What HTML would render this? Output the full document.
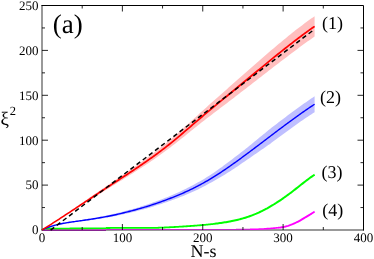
<!DOCTYPE html>
<html><head><meta charset="utf-8"><style>
html,body{margin:0;padding:0;background:#fff;}
svg{display:block;will-change:transform;text-rendering:geometricPrecision;font-family:"Liberation Serif",serif;}
</style></head><body>
<svg width="374" height="259" viewBox="0 0 374 259">
<rect width="374" height="259" fill="#fff"/>
<polygon points="42.00,229.70 43.71,228.59 45.43,227.47 47.14,226.35 48.86,225.22 50.57,224.09 52.29,222.95 54.00,221.82 55.72,220.67 57.43,219.53 59.14,218.38 60.86,217.22 62.57,216.07 64.29,214.91 66.00,213.75 67.72,212.59 69.43,211.42 71.15,210.25 72.86,209.08 74.57,207.91 76.29,206.74 78.00,205.57 79.72,204.39 81.43,203.22 83.15,202.04 84.86,200.87 86.58,199.69 88.29,198.51 90.01,197.34 91.72,196.16 93.43,194.99 95.15,193.81 96.86,192.64 98.58,191.47 100.29,190.30 102.01,189.12 103.72,187.94 105.44,186.76 107.15,185.59 108.86,184.41 110.58,183.24 112.29,182.08 114.01,180.91 115.72,179.74 117.44,178.58 119.15,177.41 120.87,176.24 122.58,175.07 124.29,173.90 126.01,172.73 127.72,171.55 129.44,170.37 131.15,169.18 132.87,167.99 134.58,166.80 136.30,165.60 138.01,164.39 139.72,163.18 141.44,161.95 143.15,160.71 144.87,159.47 146.58,158.21 148.30,156.95 150.01,155.67 151.73,154.39 153.44,153.09 155.15,151.79 156.87,150.47 158.58,149.13 160.30,147.79 162.01,146.43 163.73,145.06 165.44,143.67 167.16,142.27 168.87,140.85 170.58,139.41 172.30,137.96 174.01,136.50 175.73,135.00 177.44,133.49 179.16,131.96 180.87,130.43 182.59,128.89 184.30,127.35 186.02,125.80 187.73,124.25 189.44,122.69 191.16,121.13 192.87,119.57 194.59,118.02 196.30,116.46 198.02,114.91 199.73,113.35 201.45,111.79 203.16,110.24 204.87,108.69 206.59,107.15 208.30,105.61 210.02,104.08 211.73,102.55 213.45,101.02 215.16,99.50 216.88,97.98 218.59,96.46 220.30,94.95 222.02,93.43 223.73,91.92 225.45,90.40 227.16,88.89 228.88,87.37 230.59,85.86 232.31,84.34 234.02,82.82 235.73,81.30 237.45,79.78 239.16,78.27 240.88,76.77 242.59,75.26 244.31,73.75 246.02,72.24 247.74,70.73 249.45,69.22 251.16,67.71 252.88,66.21 254.59,64.70 256.31,63.20 258.02,61.69 259.74,60.19 261.45,58.69 263.17,57.19 264.88,55.71 266.59,54.25 268.31,52.78 270.02,51.32 271.74,49.87 273.45,48.42 275.17,46.97 276.88,45.52 278.60,44.09 280.31,42.65 282.03,41.22 283.74,39.80 285.45,38.38 287.17,36.97 288.88,35.57 290.60,34.17 292.31,32.79 294.03,31.45 295.74,30.12 297.46,28.81 299.17,27.50 300.88,26.19 302.60,24.90 304.31,23.62 306.03,22.35 307.74,21.09 309.46,19.84 311.17,18.60 312.89,17.38 314.60,16.17 314.60,36.57 312.89,37.75 311.17,38.95 309.46,40.15 307.74,41.37 306.03,42.60 304.31,43.84 302.60,45.09 300.88,46.35 299.17,47.62 297.46,48.90 295.74,50.19 294.03,51.49 292.31,52.79 290.60,54.07 288.88,55.34 287.17,56.63 285.45,57.91 283.74,59.21 282.03,60.51 280.31,61.82 278.60,63.13 276.88,64.44 275.17,65.77 273.45,67.09 271.74,68.42 270.02,69.75 268.31,71.09 266.59,72.43 264.88,73.77 263.17,75.11 261.45,76.43 259.74,77.75 258.02,79.07 256.31,80.40 254.59,81.73 252.88,83.05 251.16,84.38 249.45,85.71 247.74,87.04 246.02,88.38 244.31,89.71 242.59,91.04 240.88,92.37 239.16,93.70 237.45,95.03 235.73,96.34 234.02,97.65 232.31,98.96 230.59,100.27 228.88,101.57 227.16,102.88 225.45,104.18 223.73,105.48 222.02,106.79 220.30,108.09 218.59,109.40 216.88,110.70 215.16,112.01 213.45,113.32 211.73,114.64 210.02,115.96 208.30,117.28 206.59,118.60 204.87,119.94 203.16,121.27 201.45,122.61 199.73,123.96 198.02,125.31 196.30,126.69 194.59,128.08 192.87,129.46 191.16,130.85 189.44,132.23 187.73,133.62 186.02,135.00 184.30,136.38 182.59,137.75 180.87,139.12 179.16,140.48 177.44,141.83 175.73,143.17 174.01,144.50 172.30,145.84 170.58,147.17 168.87,148.49 167.16,149.78 165.44,151.07 163.73,152.33 162.01,153.58 160.30,154.82 158.58,156.05 156.87,157.26 155.15,158.46 153.44,159.64 151.73,160.82 150.01,161.98 148.30,163.13 146.58,164.28 144.87,165.41 143.15,166.54 141.44,167.65 139.72,168.76 138.01,169.87 136.30,170.98 134.58,172.07 132.87,173.17 131.15,174.25 129.44,175.33 127.72,176.41 126.01,177.49 124.29,178.56 122.58,179.63 120.87,180.69 119.15,181.76 117.44,182.82 115.72,183.89 114.01,184.95 112.29,186.01 110.58,187.08 108.86,188.15 107.15,189.22 105.44,190.29 103.72,191.36 102.01,192.44 100.29,193.52 98.58,194.61 96.86,195.70 95.15,196.80 93.43,197.89 91.72,198.99 90.01,200.09 88.29,201.19 86.58,202.29 84.86,203.39 83.15,204.49 81.43,205.58 79.72,206.68 78.00,207.78 76.29,208.88 74.57,209.97 72.86,211.07 71.15,212.16 69.43,213.25 67.72,214.34 66.00,215.42 64.29,216.51 62.57,217.59 60.86,218.67 59.14,219.75 57.43,220.82 55.72,221.89 54.00,222.95 52.29,224.02 50.57,225.07 48.86,226.13 47.14,227.18 45.43,228.22 43.71,229.26 42.00,230.30" fill="#ffbfbf"/>
<polygon points="42.00,229.80 43.71,228.98 45.43,228.23 47.14,227.52 48.86,226.86 50.57,226.25 52.29,225.68 54.00,225.16 55.72,224.67 57.43,224.22 59.14,223.80 60.86,223.41 62.57,223.05 64.29,222.70 66.00,222.37 67.72,222.05 69.43,221.76 71.15,221.47 72.86,221.20 74.57,220.93 76.29,220.67 78.00,220.41 79.72,220.15 81.43,219.88 83.15,219.61 84.86,219.34 86.58,219.07 88.29,218.79 90.01,218.50 91.72,218.21 93.43,217.92 95.15,217.62 96.86,217.32 98.58,217.00 100.29,216.69 102.01,216.36 103.72,216.02 105.44,215.68 107.15,215.33 108.86,214.97 110.58,214.60 112.29,214.22 114.01,213.83 115.72,213.42 117.44,213.00 119.15,212.57 120.87,212.14 122.58,211.69 124.29,211.24 126.01,210.78 127.72,210.32 129.44,209.85 131.15,209.38 132.87,208.91 134.58,208.42 136.30,207.92 138.01,207.42 139.72,206.91 141.44,206.37 143.15,205.83 144.87,205.28 146.58,204.71 148.30,204.14 150.01,203.56 151.73,202.96 153.44,202.36 155.15,201.75 156.87,201.12 158.58,200.49 160.30,199.84 162.01,199.19 163.73,198.52 165.44,197.85 167.16,197.14 168.87,196.43 170.58,195.71 172.30,194.98 174.01,194.24 175.73,193.48 177.44,192.72 179.16,191.94 180.87,191.15 182.59,190.34 184.30,189.51 186.02,188.67 187.73,187.82 189.44,186.95 191.16,186.07 192.87,185.16 194.59,184.24 196.30,183.31 198.02,182.35 199.73,181.38 201.45,180.40 203.16,179.41 204.87,178.40 206.59,177.37 208.30,176.32 210.02,175.25 211.73,174.10 213.45,172.94 215.16,171.76 216.88,170.56 218.59,169.35 220.30,168.12 222.02,166.88 223.73,165.62 225.45,164.35 227.16,163.07 228.88,161.77 230.59,160.46 232.31,159.15 234.02,157.82 235.73,156.50 237.45,155.20 239.16,153.89 240.88,152.57 242.59,151.24 244.31,149.91 246.02,148.55 247.74,147.17 249.45,145.78 251.16,144.39 252.88,142.99 254.59,141.59 256.31,140.19 258.02,138.78 259.74,137.37 261.45,135.96 263.17,134.55 264.88,133.14 266.59,131.73 268.31,130.32 270.02,128.91 271.74,127.59 273.45,126.28 275.17,124.96 276.88,123.65 278.60,122.35 280.31,121.04 282.03,119.74 283.74,118.44 285.45,117.15 287.17,115.86 288.88,114.58 290.60,113.30 292.31,112.03 294.03,110.77 295.74,109.52 297.46,108.27 299.17,107.03 300.88,105.80 302.60,104.58 304.31,103.36 306.03,102.14 307.74,100.94 309.46,99.74 311.17,98.56 312.89,97.39 314.60,96.24 314.60,112.24 312.89,113.34 311.17,114.45 309.46,115.57 307.74,116.70 306.03,117.85 304.31,119.00 302.60,120.17 300.88,121.36 299.17,122.56 297.46,123.77 295.74,124.98 294.03,126.21 292.31,127.44 290.60,128.68 288.88,129.92 287.17,131.17 285.45,132.43 283.74,133.69 282.03,134.96 280.31,136.23 278.60,137.50 276.88,138.78 275.17,140.06 273.45,141.34 271.74,142.62 270.02,143.91 268.31,145.10 266.59,146.29 264.88,147.49 263.17,148.68 261.45,149.87 259.74,151.06 258.02,152.25 256.31,153.43 254.59,154.62 252.88,155.80 251.16,156.98 249.45,158.15 247.74,159.32 246.02,160.48 244.31,161.66 242.59,162.85 240.88,164.04 239.16,165.22 237.45,166.39 235.73,167.56 234.02,168.69 232.31,169.80 230.59,170.90 228.88,171.99 227.16,173.06 225.45,174.13 223.73,175.18 222.02,176.22 220.30,177.24 218.59,178.25 216.88,179.24 215.16,180.22 213.45,181.18 211.73,182.13 210.02,183.05 208.30,184.02 206.59,184.96 204.87,185.89 203.16,186.80 201.45,187.69 199.73,188.56 198.02,189.40 196.30,190.22 194.59,191.02 192.87,191.81 191.16,192.58 189.44,193.33 187.73,194.07 186.02,194.79 184.30,195.49 182.59,196.18 180.87,196.87 179.16,197.54 177.44,198.19 175.73,198.84 174.01,199.47 172.30,200.10 170.58,200.71 168.87,201.31 167.16,201.90 165.44,202.48 163.73,203.06 162.01,203.64 160.30,204.22 158.58,204.78 156.87,205.33 155.15,205.87 153.44,206.40 151.73,206.93 150.01,207.44 148.30,207.94 146.58,208.43 144.87,208.91 143.15,209.38 141.44,209.84 139.72,210.30 138.01,210.75 136.30,211.19 134.58,211.63 132.87,212.06 131.15,212.48 129.44,212.88 127.72,213.29 126.01,213.69 124.29,214.09 122.58,214.48 120.87,214.87 119.15,215.24 117.44,215.61 115.72,215.97 114.01,216.32 112.29,216.65 110.58,216.97 108.86,217.28 107.15,217.58 105.44,217.87 103.72,218.15 102.01,218.43 100.29,218.70 98.58,218.97 96.86,219.23 95.15,219.49 93.43,219.74 91.72,219.98 90.01,220.23 88.29,220.46 86.58,220.70 84.86,220.92 83.15,221.15 81.43,221.37 79.72,221.59 78.00,221.80 76.29,222.01 74.57,222.23 72.86,222.45 71.15,222.68 69.43,222.91 67.72,223.16 66.00,223.43 64.29,223.71 62.57,224.01 60.86,224.33 59.14,224.68 57.43,225.05 55.72,225.45 54.00,225.89 52.29,226.36 50.57,226.88 48.86,227.45 47.14,228.06 45.43,228.72 43.71,229.43 42.00,230.20" fill="#bfbfff"/>
<path d="M42,230V5.5M42,230H363.5" fill="none" stroke="#000" stroke-width="1" stroke-opacity="0.8" stroke-linecap="square"/><path d="M41.5,5.5H363.5V230.5" fill="none" stroke="#000" stroke-width="1"/>
<polyline points="106.20,229.47 107.41,229.45 108.63,229.45 109.84,229.45 111.05,229.45 112.27,229.45 113.48,229.45 114.69,229.45 115.90,229.45 117.12,229.45 118.33,229.45 119.54,229.45 120.76,229.45 121.97,229.45 123.18,229.45 124.40,229.45 125.61,229.45 126.82,229.45 128.04,229.45 129.25,229.45 130.46,229.45 131.67,229.45 132.89,229.45 134.10,229.45 135.31,229.45 136.53,229.45 137.74,229.45 138.95,229.45 140.17,229.45 141.38,229.45 142.59,229.45 143.81,229.45 145.02,229.45 146.23,229.45 147.44,229.45 148.66,229.45 149.87,229.45 151.08,229.45 152.30,229.45 153.51,229.45 154.72,229.45 155.94,229.45 157.15,229.45 158.36,229.45 159.58,229.45 160.79,229.45 162.00,229.45 163.21,229.45 164.43,229.45 165.64,229.45 166.85,229.45 168.07,229.45 169.28,229.45 170.49,229.45 171.71,229.45 172.92,229.45 174.13,229.45 175.35,229.45 176.56,229.45 177.77,229.45 178.99,229.45 180.20,229.45 181.41,229.45 182.62,229.45 183.84,229.45 185.05,229.45 186.26,229.45 187.48,229.45 188.69,229.45 189.90,229.45 191.12,229.45 192.33,229.45 193.54,229.45 194.76,229.45 195.97,229.45 197.18,229.45 198.39,229.45 199.61,229.45 200.82,229.45 202.03,229.45 203.25,229.45 204.46,229.45 205.67,229.45 206.89,229.45 208.10,229.45 209.31,229.45 210.53,229.45 211.74,229.45 212.95,229.45 214.16,229.45 215.38,229.45 216.59,229.45 217.80,229.45 219.02,229.45 220.23,229.45 221.44,229.45 222.66,229.45 223.87,229.45 225.08,229.45 226.30,229.45 227.51,229.45 228.72,229.45 229.93,229.45 231.15,229.45 232.36,229.45 233.57,229.45 234.79,229.45 236.00,229.45" fill="none" stroke="rgb(198,40,203)" stroke-width="1.1" stroke-linejoin="round"/><polyline points="236.00,229.45 237.40,229.45 238.80,229.44 240.20,229.43 241.60,229.42 243.00,229.40 244.40,229.38 245.80,229.36 247.20,229.34 248.60,229.32 250.00,229.30" fill="none" stroke="rgb(198,40,203)" stroke-width="1.3" stroke-linejoin="round"/><polyline points="250.00,229.30 251.33,229.28 252.67,229.26 254.00,229.24 255.33,229.21 256.67,229.18 258.00,229.15 259.33,229.11 260.67,229.06 262.00,229.00 263.33,228.94 264.67,228.87 265.00,228.85 266.00,228.79" fill="none" stroke="#ff00ff" stroke-width="1.5" stroke-linejoin="round"/><polyline points="266.00,228.79 267.33,228.71 268.67,228.61 270.00,228.50 271.33,228.39 272.67,228.27 274.00,228.15 275.06,228.05 275.33,228.02 276.67,227.90 278.00,227.76" fill="none" stroke="#ff00ff" stroke-width="1.7" stroke-linejoin="round"/><polyline points="278.00,227.76 279.26,227.63 280.52,227.48 281.79,227.30 283.05,227.11 283.10,227.10 284.31,226.86 285.57,226.54 286.83,226.18 288.10,225.80 288.10,225.80 289.36,225.39 290.62,224.94 291.88,224.45 292.00,224.40 293.14,223.92 294.41,223.35 295.03,223.06 295.67,222.76 296.93,222.15 298.19,221.53 299.46,220.87 300.05,220.55 300.72,220.18 301.98,219.43 303.24,218.66 304.50,217.88 305.06,217.54 305.77,217.12 307.03,216.37 308.29,215.62 309.55,214.85 310.08,214.53 310.81,214.08 312.08,213.29 313.34,212.48 314.40,211.80 314.60,211.67" fill="none" stroke="#ff00ff" stroke-width="1.9" stroke-linejoin="round"/>
<polyline points="42.00,230.00 43.23,229.24 44.46,228.80 44.50,228.80 45.69,228.69 46.92,228.63 48.00,228.60 48.14,228.60 49.37,228.58 50.60,228.57 51.83,228.56 53.06,228.55 54.29,228.54 55.52,228.53 56.75,228.52 57.98,228.51 59.20,228.50 60.43,228.50 61.66,228.49 62.89,228.49 64.12,228.49 65.35,228.48 66.58,228.48 67.81,228.48 69.03,228.48 70.26,228.47 71.49,228.47 72.72,228.47 73.95,228.47 75.18,228.47 76.41,228.47 77.64,228.47 78.87,228.46 80.09,228.46 81.32,228.46 82.55,228.46 83.78,228.46 85.01,228.46 86.24,228.45 87.47,228.45 88.70,228.44 89.93,228.44 91.15,228.43 92.38,228.43 93.61,228.42 94.84,228.41 96.07,228.40 97.30,228.39 98.53,228.38 99.76,228.37 100.98,228.36 102.21,228.34 103.44,228.33 104.67,228.31 105.50,228.30 105.90,228.15" fill="none" stroke="#00ff00" stroke-width="1.7" stroke-linejoin="round"/><polyline points="105.90,228.15 106.30,228.00 107.13,227.99 108.35,227.99 109.58,227.98 110.80,227.97 112.03,227.97 113.26,227.96 114.48,227.96 115.71,227.96 116.93,227.95 118.16,227.95 119.38,227.95 120.61,227.95 121.84,227.95 123.06,227.94 124.29,227.94 125.51,227.94 126.74,227.94 127.97,227.94 129.19,227.94 130.42,227.94 131.64,227.94 132.87,227.94 134.09,227.94 135.32,227.94 136.55,227.93 137.77,227.93 139.00,227.93 140.22,227.93 141.45,227.93 142.68,227.93 143.90,227.94 145.13,227.94 146.35,227.95 147.58,227.95 148.80,227.95 150.00,227.94 150.03,227.94 151.26,227.92 152.48,227.90 153.71,227.87 154.93,227.84 156.16,227.81 157.39,227.78 158.61,227.74 159.84,227.70 161.06,227.65 162.29,227.60 163.51,227.55 164.74,227.50 165.97,227.45 166.00,227.45 167.19,227.39 168.42,227.33 169.64,227.27 170.87,227.21 172.10,227.14 173.32,227.07 174.55,227.00 175.00,226.98 175.77,226.93 177.00,226.86 178.22,226.79 179.45,226.72 180.68,226.64 181.90,226.56 183.13,226.49 184.35,226.41 185.00,226.37 185.58,226.33 186.81,226.25 188.03,226.17 189.26,226.09 190.48,226.01 191.71,225.92 192.93,225.83 194.16,225.75 195.06,225.68 195.39,225.65 196.61,225.56 197.84,225.47 199.06,225.37 200.29,225.27 201.52,225.16 202.74,225.05 203.97,224.94 205.10,224.84 205.19,224.83 206.42,224.71 207.64,224.59 208.87,224.46 210.10,224.33 211.00,224.23 211.32,224.19 212.55,224.05 213.77,223.91 215.00,223.75" fill="none" stroke="#00ff00" stroke-width="1.8" stroke-linejoin="round"/><polyline points="215.00,223.75 216.21,223.60 217.43,223.44 218.64,223.27 219.86,223.10 220.00,223.08 221.07,222.93 222.29,222.74 223.50,222.55 224.72,222.36 225.93,222.15 227.15,221.94 228.36,221.73 229.58,221.50 230.06,221.41 230.79,221.27 232.00,221.03 233.22,220.78 234.43,220.52 235.65,220.25 236.86,219.97 238.08,219.68 239.29,219.38 240.10,219.17 240.51,219.06 241.72,218.74 242.94,218.40 244.15,218.04 245.37,217.67 246.00,217.47 246.58,217.29 247.80,216.89 249.01,216.47 250.22,216.04 251.44,215.59 252.65,215.12 253.87,214.64 255.00,214.18 255.08,214.14 256.30,213.63 257.51,213.09 258.73,212.54 259.94,211.98 261.16,211.40 262.37,210.80 263.59,210.19 264.80,209.56 265.06,209.42 266.01,208.91 267.23,208.26 268.44,207.58 269.66,206.89 270.87,206.19 272.09,205.47 273.30,204.74 274.52,203.99 275.10,203.62 275.73,203.23 276.95,202.45 278.16,201.66 279.38,200.86 280.59,200.05 281.80,199.22 282.00,199.08 283.02,198.38 284.23,197.53 285.45,196.66 286.02,196.25 286.66,195.79 287.88,194.90 289.09,194.00 290.03,193.30 290.31,193.10 291.52,192.18 292.74,191.25 293.95,190.31 295.17,189.36 296.38,188.41 297.60,187.45 298.81,186.49 300.02,185.52 300.06,185.49 301.24,184.56 302.45,183.60 303.67,182.64 304.88,181.70 306.10,180.76 307.31,179.84 308.53,178.93 309.74,178.04 310.10,177.78 310.96,177.16 312.17,176.31 313.39,175.48 314.40,174.80 314.60,174.67" fill="none" stroke="#00ff00" stroke-width="2.0" stroke-linejoin="round"/>
<polyline points="42.00,230.00 43.21,229.44 44.41,228.90 45.62,228.40 46.82,227.91 48.03,227.46 49.24,227.02 50.44,226.61 51.65,226.22 52.86,225.85 54.06,225.51 55.27,225.18 56.47,224.87 57.68,224.57 58.89,224.30 60.09,224.03 61.30,223.78 62.51,223.54 63.71,223.31 64.92,223.09 66.12,222.88 67.33,222.67 68.54,222.48 69.74,222.29 70.95,222.10 72.15,221.93 73.36,221.75 74.57,221.58 75.77,221.41 76.98,221.25 78.19,221.08 79.39,220.91 80.60,220.74 81.80,220.57 83.01,220.40 84.22,220.23 85.42,220.05 86.63,219.87 87.84,219.69 89.04,219.51 90.25,219.33 91.45,219.14 92.66,218.95 93.87,218.76 95.07,218.57 96.28,218.37 97.48,218.17 98.69,217.97 99.90,217.76 101.10,217.55 102.31,217.34 103.52,217.12 104.72,216.90 105.93,216.68 107.13,216.45 108.34,216.22 109.55,215.99 110.75,215.75 111.96,215.51 113.17,215.25 114.37,214.99 115.58,214.73 116.78,214.46 117.99,214.18 119.20,213.90 120.40,213.61 121.61,213.32 122.82,213.03 124.02,212.73 125.23,212.43 126.43,212.13 127.64,211.83 128.85,211.52 130.05,211.21 131.26,210.90 132.46,210.59 133.67,210.27 134.88,209.95 136.08,209.62 137.29,209.29 138.50,208.95 139.70,208.61 140.91,208.26 142.11,207.91 143.32,207.55 144.53,207.19 145.73,206.83 146.94,206.46 148.15,206.09 149.35,205.71 150.56,205.32 151.76,204.93 152.97,204.54 154.18,204.14 155.38,203.73 156.59,203.32 157.79,202.91 159.00,202.49 160.21,202.06 161.41,201.63 162.62,201.20 163.83,200.76 165.03,200.31 166.24,199.87 167.44,199.41 168.65,198.95 169.86,198.49 171.06,198.02 172.27,197.55 173.48,197.07 174.68,196.59 175.89,196.10 177.09,195.60 178.30,195.10 179.51,194.59 180.71,194.07 181.92,193.55 183.12,193.02 184.33,192.49 185.54,191.95 186.74,191.40 187.95,190.84 189.16,190.28 190.36,189.70 191.57,189.12 192.77,188.53 193.98,187.94 195.19,187.33 196.39,186.72 197.60,186.09 198.81,185.46 200.01,184.82 201.22,184.17 202.42,183.51 203.63,182.84 204.84,182.16 206.04,181.48 207.25,180.78 208.45,180.08 209.66,179.36 210.87,178.64 212.07,177.91 213.28,177.17 214.49,176.42 215.69,175.66 216.90,174.89 218.10,174.11 219.31,173.33 220.52,172.54 221.72,171.74 222.93,170.94 224.14,170.13 225.34,169.31 226.55,168.49 227.75,167.66 228.96,166.82 230.17,165.98 231.37,165.13 232.58,164.28 233.78,163.42 234.99,162.56 236.20,161.70 237.40,160.83 238.61,159.96 239.82,159.08 241.02,158.20 242.23,157.31 243.43,156.43 244.64,155.54 245.85,154.65 247.05,153.75 248.26,152.85 249.47,151.95 250.67,151.05 251.88,150.15 253.08,149.24 254.29,148.33 255.50,147.42 256.70,146.51 257.91,145.60 259.12,144.69 260.32,143.77 261.53,142.86 262.73,141.94 263.94,141.03 265.15,140.11 266.35,139.20 267.56,138.28 268.76,137.36 269.97,136.45 271.18,135.53 272.38,134.62 273.59,133.71 274.80,132.79 276.00,131.88 277.21,130.97 278.41,130.06 279.62,129.15 280.83,128.25 282.03,127.34 283.24,126.44 284.45,125.54 285.65,124.64 286.86,123.75 288.06,122.86 289.27,121.97 290.48,121.08 291.68,120.20 292.89,119.32 294.09,118.44 295.30,117.57 296.51,116.70 297.71,115.83 298.92,114.97 300.13,114.12 301.33,113.27 302.54,112.42 303.74,111.58 304.95,110.74 306.16,109.91 307.36,109.08 308.57,108.26 309.78,107.44 310.98,106.63 312.19,105.83 313.39,105.03 314.60,104.24" fill="none" stroke="#0000ff" stroke-width="1.4" stroke-linejoin="round"/>
<polyline points="42.00,230.00 43.23,229.23 44.46,228.46 45.69,227.68 46.92,226.90 48.15,226.12 49.38,225.34 50.62,224.55 51.85,223.77 53.08,222.98 54.31,222.19 55.54,221.39 56.77,220.60 58.00,219.80 59.23,219.01 60.46,218.21 61.69,217.40 62.92,216.60 64.15,215.80 65.38,214.99 66.62,214.18 67.85,213.38 69.08,212.57 70.31,211.76 71.54,210.95 72.77,210.13 74.00,209.32 75.23,208.51 76.46,207.69 77.69,206.88 78.92,206.06 80.15,205.25 81.38,204.43 82.62,203.62 83.85,202.80 85.08,201.98 86.31,201.17 87.54,200.35 88.77,199.53 90.00,198.72" fill="none" stroke="#ff0000" stroke-width="1.5" stroke-linejoin="round"/><polyline points="90.00,198.72 91.21,197.92 92.42,197.12 93.62,196.32 94.83,195.52 96.04,194.72 97.25,193.92 98.45,193.12 99.66,192.32 100.87,191.53 102.08,190.73 103.28,189.94 104.49,189.14 105.70,188.35 106.91,187.56 108.11,186.77 109.32,185.98 110.53,185.19 111.74,184.41 112.94,183.62 114.15,182.84 115.36,182.05 116.57,181.27 117.77,180.48 118.98,179.69 120.19,178.91 121.40,178.12 122.60,177.33 123.81,176.54 125.02,175.75 126.23,174.96 127.43,174.17 128.64,173.38 129.85,172.58 131.06,171.78 132.26,170.98 133.47,170.18 134.68,169.37 135.89,168.56 137.09,167.75 138.30,166.94 139.51,166.12 140.72,165.30 141.92,164.47 143.13,163.64 144.34,162.81 145.55,161.97 146.75,161.12 147.96,160.28 149.17,159.42 150.38,158.57 151.58,157.70 152.79,156.84 154.00,155.96 155.21,155.08 156.41,154.20 157.62,153.31 158.83,152.41 160.04,151.50 161.24,150.59 162.45,149.67 163.66,148.75 164.87,147.81 166.07,146.87 167.28,145.93 168.49,144.97 169.70,144.01 170.90,143.04 172.11,142.06 173.32,141.07 174.53,140.08 175.73,139.08 176.94,138.08 178.15,137.07 179.36,136.05 180.56,135.04 181.77,134.01 182.98,132.99 184.19,131.96 185.39,130.93 186.60,129.90 187.81,128.86 189.02,127.83 190.22,126.79 191.43,125.75 192.64,124.72 193.85,123.68 195.05,122.65 196.26,121.61 197.47,120.58 198.68,119.55 199.88,118.52 201.09,117.50 202.30,116.48 203.51,115.46 204.72,114.45 205.92,113.43 207.13,112.42 208.34,111.42 209.55,110.41 210.75,109.41 211.96,108.40 213.17,107.40 214.38,106.41 215.58,105.41 216.79,104.41 218.00,103.42 219.21,102.42 220.41,101.43 221.62,100.44 222.83,99.44 224.04,98.45 225.24,97.46 226.45,96.47 227.66,95.48 228.87,94.48 230.07,93.49 231.28,92.50 232.49,91.50 233.70,90.51 234.90,89.51 236.11,88.51 237.32,87.51 238.53,86.51 239.73,85.52 240.94,84.52 242.15,83.52 243.36,82.52 244.56,81.52 245.77,80.52 246.98,79.52 248.19,78.52 249.39,77.52 250.60,76.52 251.81,75.52 253.02,74.52 254.22,73.52 255.43,72.52 256.64,71.52 257.85,70.53 259.05,69.53 260.26,68.54 261.47,67.54 262.68,66.55 263.88,65.56 265.09,64.57 266.30,63.58 267.51,62.59 268.71,61.61 269.92,60.62 271.13,59.64 272.34,58.66 273.54,57.68 274.75,56.70 275.96,55.73 277.17,54.76 278.37,53.78 279.58,52.82 280.79,51.85 282.00,50.89 283.20,49.93 284.41,48.97 285.62,48.02 286.83,47.07 288.03,46.12 289.24,45.17 290.45,44.23 291.66,43.30 292.86,42.36 294.07,41.44 295.28,40.51 296.49,39.59 297.69,38.67 298.90,37.76 300.11,36.85 301.32,35.95 302.52,35.05 303.73,34.16 304.94,33.27 306.15,32.39 307.35,31.51 308.56,30.64 309.77,29.77 310.98,28.91 312.18,28.06 313.39,27.21 314.60,26.37" fill="none" stroke="#ff0000" stroke-width="1.7" stroke-linejoin="round"/>
<defs><linearGradient id="pg" x1="0" x2="1" y1="0" y2="0"><stop offset="0" stop-color="rgb(110,125,100)"/><stop offset="1" stop-color="rgb(190,80,190)"/></linearGradient></defs><rect x="46" y="229" width="60" height="1" fill="url(#pg)"/>
<rect x="43" y="230" width="63" height="1" fill="rgb(135,35,145)"/>
<polyline points="50.60,230.10 314.40,29.35" fill="none" stroke="#000" stroke-width="1.5" stroke-dasharray="4.5,3.22"/>
<path d="M82.19,230v-3M82.19,5.5v3M122.38,230v-6M122.38,5.5v6M162.56,230v-3M162.56,5.5v3M202.75,230v-6M202.75,5.5v6M242.94,230v-3M242.94,5.5v3M283.12,230v-6M283.12,5.5v6M323.31,230v-3M323.31,5.5v3M42,207.55h3M363.5,207.55h-3M42,185.10h6M363.5,185.10h-6M42,162.65h3M363.5,162.65h-3M42,140.20h6M363.5,140.20h-6M42,117.75h3M363.5,117.75h-3M42,95.30h6M363.5,95.30h-6M42,72.85h3M363.5,72.85h-3M42,50.40h6M363.5,50.40h-6M42,27.95h3M363.5,27.95h-3" stroke="#000" stroke-width="0.85" fill="none"/>
<g font-size="13px" fill="#000"><text x="42.0" y="242.2" text-anchor="middle">0</text><text x="122.4" y="242.2" text-anchor="middle">100</text><text x="202.8" y="242.2" text-anchor="middle">200</text><text x="283.1" y="242.2" text-anchor="middle">300</text><text x="363.5" y="242.2" text-anchor="middle">400</text><text x="38.4" y="234.3" text-anchor="end">0</text><text x="38.4" y="189.4" text-anchor="end">50</text><text x="38.4" y="144.5" text-anchor="end">100</text><text x="38.4" y="99.6" text-anchor="end">150</text><text x="38.4" y="54.7" text-anchor="end">200</text><text x="38.4" y="9.8" text-anchor="end">250</text></g>
<text x="52.7" y="33.3" font-size="27px">(a)</text>
<text x="322" y="28.8" font-size="18px">(1)</text>
<text x="320" y="103" font-size="18px">(2)</text>
<text x="321.5" y="178" font-size="18px">(3)</text>
<text x="322.3" y="215.9" font-size="18px">(4)</text>
<text x="203.4" y="257.2" font-size="18px" text-anchor="middle">N-s</text>
<text x="0.5" y="125" font-size="19px">ξ</text>
<text x="9.8" y="114.6" font-size="12.5px">2</text>
</svg>
</body></html>
